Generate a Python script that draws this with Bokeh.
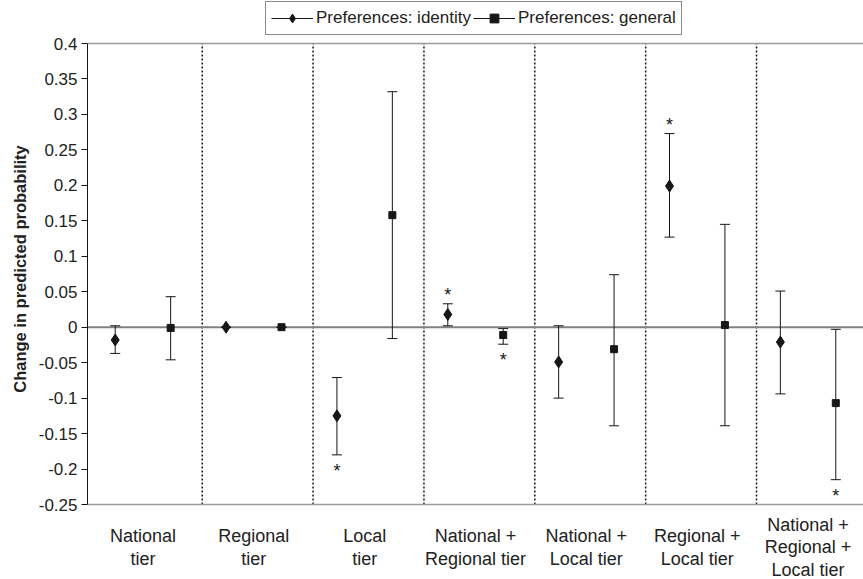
import math
from bokeh.plotting import figure
from bokeh.models import (ColumnDataSource, Range1d, FixedTicker, CustomJSTickFormatter,
                          Span, Whisker, TeeHead, LabelSet, Legend, LegendItem, Title)
from bokeh.core.properties import value
from bokeh.embed import file_html
from bokeh.resources import INLINE

# ---------------- data ----------------
categories = ["National\ntier", "Regional\ntier", "Local\ntier",
              "National +\nRegional tier", "National +\nLocal tier",
              "Regional +\nLocal tier", "National +\nRegional +\nLocal tier"]

identity = [-0.018, 0.0, -0.125, 0.018, -0.049, 0.199, -0.021]
identity_low = [-0.037, 0.0, -0.180, 0.002, -0.100, 0.127, -0.094]
identity_high = [0.002, 0.0, -0.071, 0.033, 0.002, 0.273, 0.051]
identity_sig = [0, 0, -1, 1, 0, 1, 0]        # 1: star above, -1: star below

general = [-0.001, 0.0, 0.158, -0.011, -0.031, 0.003, -0.107]
general_low = [-0.046, 0.0, -0.016, -0.024, -0.139, -0.139, -0.215]
general_high = [0.043, 0.0, 0.332, -0.002, 0.074, 0.145, -0.003]
general_sig = [0, 0, 0, -1, 0, 0, -1]

y_ticks = [-0.25, -0.2, -0.15, -0.1, -0.05, 0.0, 0.05, 0.1, 0.15, 0.2, 0.25, 0.3, 0.35, 0.4]
y_tick_labels = ["-0.25", "-0.2", "-0.15", "-0.1", "-0.05", "0", "0.05", "0.1",
                 "0.15", "0.2", "0.25", "0.3", "0.35", "0.4"]

series_names = ["Preferences: identity", "Preferences: general"]
y_title = "Change in predicted probability"

# ---------------- layout / style ----------------
FONT = "Liberation Sans"
INK = "#161616"
TXT = "#222222"
W, H = 863, 579
LEFT = 87              # px of the y-axis panel
PLOT_TOP, PLOT_BOTTOM = 43, 504   # px where the value box starts / ends
ppu = (PLOT_BOTTOM - PLOT_TOP) / (y_ticks[-1] - y_ticks[0])
y_lo = y_ticks[0] - (H - PLOT_BOTTOM) / ppu
y_hi = y_ticks[-1] + PLOT_TOP / ppu

n = len(categories)
x_ident = [i - 0.25 for i in range(n)]
x_gen = [i + 0.25 for i in range(n)]

p = figure(width=W, height=H,
           x_range=Range1d(-0.5, n - 0.5), y_range=Range1d(y_lo, y_hi),
           output_backend="svg", toolbar_location=None, x_axis_location=None,
           min_border_left=LEFT, min_border_right=0, min_border_top=0, min_border_bottom=0)
p.grid.visible = False
p.outline_line_color = None
p.background_fill_color = "white"
p.border_fill_color = "white"

# y axis
ax = p.yaxis[0]
ax.bounds = (y_ticks[0], y_ticks[-1])
ax.ticker = FixedTicker(ticks=y_ticks)
ax.formatter = CustomJSTickFormatter(args=dict(vals=y_ticks, labs=y_tick_labels), code="""
let k = 0, best = Infinity;
for (let j = 0; j < vals.length; j++) {
  const d = Math.abs(vals[j] - tick);
  if (d < best) { best = d; k = j; }
}
return labs[k];
""")
ax.axis_line_color = INK
ax.axis_line_width = 1
ax.major_tick_line_color = INK
ax.major_tick_out = 6
ax.major_tick_in = 0
ax.minor_tick_line_color = None
ax.major_label_text_font = FONT
ax.major_label_text_font_size = "17px"
ax.major_label_text_color = TXT
ax.major_label_standoff = 4

# y title, placed along the value box (starts near its lower part, reads upward)
TITLE_PX = 16.5
title_len = 15.0 * TITLE_PX          # approx. width of the bold text
title_mid = (PLOT_TOP + PLOT_BOTTOM) / 2 - 5
p.add_layout(Title(text=y_title, align="left", offset=H - (title_mid + title_len / 2),
                   text_font=FONT, text_font_size=f"{TITLE_PX}px", text_font_style="bold",
                   text_color=TXT, standoff=14), "left")

# box top / bottom lines, zero line
for loc in (y_ticks[0], y_ticks[-1]):
    p.add_layout(Span(location=loc, dimension="width", line_color="#9a9a9a",
                      line_width=1.5, level="underlay"))
p.add_layout(Span(location=0, dimension="width", line_color="#808080", line_width=2,
                  level="underlay"))

# dotted category separators
sep_x = [i + 0.535 for i in range(n - 1)]
p.segment(x0=sep_x, y0=[y_ticks[0]] * len(sep_x), x1=sep_x, y1=[y_ticks[-1]] * len(sep_x),
          line_color=INK, line_width=1.5, line_dash="2 2", level="underlay")

# error bars
src_i = ColumnDataSource(dict(x=x_ident, y=identity, lo=identity_low, hi=identity_high))
src_g = ColumnDataSource(dict(x=x_gen, y=general, lo=general_low, hi=general_high))
for src in (src_i, src_g):
    p.add_layout(Whisker(source=src, base="x", upper="hi", lower="lo",
                         line_color=INK, line_width=1,
                         upper_head=TeeHead(size=10, line_color=INK, line_width=1),
                         lower_head=TeeHead(size=10, line_color=INK, line_width=1)))

# legend line proxies (nothing visible in the plot) and markers
nan2 = [math.nan, math.nan]
line_i = p.line(x=nan2, y=nan2, line_color=INK, line_width=1)
line_g = p.line(x=nan2, y=nan2, line_color=INK, line_width=1)
dia = p.scatter("x", "y", source=src_i, marker="diamond", size=12,
                fill_color=INK, line_color=INK)
sq = p.scatter("x", "y", source=src_g, marker="square", size=7,
               fill_color=INK, line_color=INK)

# significance stars
sx, sy, so = [], [], []
for xs, lo, hi, sig in ((x_ident, identity_low, identity_high, identity_sig),
                        (x_gen, general_low, general_high, general_sig)):
    for xv, l, h, s in zip(xs, lo, hi, sig):
        if s > 0:
            sx.append(xv); sy.append(h); so.append(3)
        elif s < 0:
            sx.append(xv); sy.append(l); so.append(-22)
star_src = ColumnDataSource(dict(x=sx, y=sy, off=so, t=["*"] * len(sx)))
p.add_layout(LabelSet(source=star_src, x="x", y="y", text="t", y_offset="off",
                      text_align="center", text_baseline="alphabetic",
                      text_font=value(FONT), text_font_size="18px", text_color=INK))

# category labels below the value box
lx, ly, lt, lo_ = [], [], [], []
for i, cat in enumerate(categories):
    lines = cat.split("\n")
    m = len(lines)
    spacing = 23 if m == 2 else 22.5
    center = 42.5
    for j, line in enumerate(lines):
        off = center + (j - (m - 1) / 2) * spacing
        lx.append(i); ly.append(y_ticks[0]); lt.append(line); lo_.append(-off)
cat_src = ColumnDataSource(dict(x=lx, y=ly, t=lt, off=lo_))
p.add_layout(LabelSet(source=cat_src, x="x", y="y", text="t", y_offset="off",
                      text_align="center", text_baseline="middle",
                      text_font=value(FONT), text_font_size="18px", text_color=TXT))

# legend
legend = Legend(items=[LegendItem(label=series_names[0], renderers=[line_i, dia]),
                       LegendItem(label=series_names[1], renderers=[line_g, sq])],
                location=(178, H - 35), orientation="horizontal")
legend.border_line_color = INK
legend.border_line_width = 1
legend.background_fill_color = "white"
legend.background_fill_alpha = 1
legend.padding = 5
legend.spacing = 2
legend.margin = 0
legend.glyph_width = 42
legend.glyph_height = 22
legend.label_standoff = 3
legend.label_text_font = FONT
legend.label_text_font_size = "17px"
legend.label_text_color = TXT
p.add_layout(legend)

open("out.html", "w").write(file_html(p, INLINE))
